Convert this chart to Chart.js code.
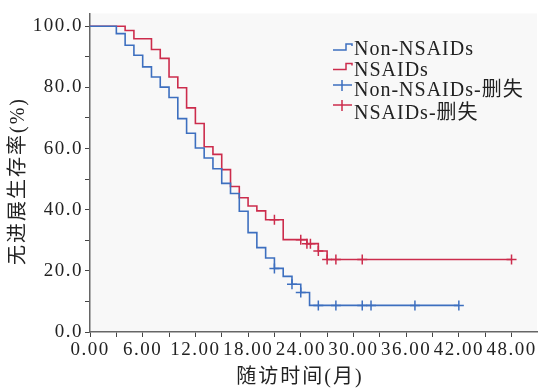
<!DOCTYPE html>
<html>
<head>
<meta charset="utf-8">
<script src="https://cdn.jsdelivr.net/npm/chart.js@4.4.1/dist/chart.umd.min.js"></script>
<style>
  html, body { margin: 0; padding: 0; background: #fff; }
</style>
</head>
<body>
<canvas id="km" width="551" height="392"></canvas>
<script>
// Kaplan-Meier steps (time in months, survival in %)
const nonTimes = [0, 3, 4, 5, 6, 7, 8, 9, 10, 11, 12, 13, 14, 15, 16, 17, 18, 19, 20, 21, 22, 23, 24, 25, 42];
const nonSurv  = [100, 97.6, 93.8, 90.5, 86.7, 83.4, 80.1, 76.7, 69.8, 65.0, 60.2, 56.9, 53.4, 48.6, 45.3, 39.5, 32.5, 27.6, 24.2, 20.8, 18.2, 15.6, 12.9, 8.7, 8.7];
const nsTimes  = [0, 4, 5, 7, 8, 9, 10, 11, 12, 13, 14, 15, 16, 17, 18, 19, 20, 22, 24.7, 26, 27, 48];
const nsSurv   = [100, 98.6, 95.9, 92.4, 89.5, 83.4, 79.9, 73.3, 68.2, 60.6, 58.1, 53.1, 47.6, 43.9, 41.2, 39.6, 36.7, 30.2, 28.9, 26.5, 23.7, 23.7];

// censored observations
const nonCensT = [21, 23, 24, 26, 28, 31, 32, 37, 42];
const nonCensS = [20.8, 15.6, 12.9, 8.7, 8.7, 8.7, 8.7, 8.7, 8.7];
const nsCensT  = [21, 24, 24.7, 25.1, 26, 27, 28, 31, 48];
const nsCensS  = [36.7, 30.2, 28.9, 28.9, 26.5, 23.7, 23.7, 23.7, 23.7];

// axis ticks (labelled ones every other tick)
const xTickVals = [0, 3, 6, 9, 12, 15, 18, 21, 24, 27, 30, 33, 36, 39, 42, 45, 48];
const yTickVals = [0, 10, 20, 30, 40, 50, 60, 70, 80, 90, 100];

const seriesNames = ['Non-NSAIDs', 'NSAIDs', 'Non-NSAIDs-删失', 'NSAIDs-删失'];
const xTitle = '随访时间(月)';
const yTitle = '无进展生存率(%)';

const blue = '#3d6fbf';
const red = '#cc2c4c';
const serif = "'Liberation Serif', 'Noto Sans CJK SC', serif";

const toXY = (xs, ys) => xs.map((x, i) => ({ x: x, y: ys[i] }));

const bgPlugin = {
  id: 'bg',
  beforeUpdate(c) { c.ctx.letterSpacing = '1.5px'; },
  beforeDraw(c) {
    const { ctx, chartArea: a } = c;
    ctx.letterSpacing = '1.5px';
    ctx.save();
    ctx.fillStyle = '#f8f8f8';
    ctx.fillRect(a.left, a.top, a.right - a.left, a.bottom - a.top);
    ctx.restore();
  }
};

// legend and axis titles
const legendPlugin = {
  id: 'kmLegend',
  afterDraw(c) {
    const ctx = c.ctx;
    ctx.save();
    ctx.lineWidth = 1.5;
    [[blue, 50], [red, 69.5]].forEach(([col, y]) => {
      ctx.strokeStyle = col;
      ctx.beginPath();
      ctx.moveTo(333, y);
      ctx.lineTo(346, y);
      ctx.lineTo(346, y - 6);
      ctx.lineTo(352, y - 6);
      ctx.lineTo(352, y - 4);
      ctx.stroke();
    });
    [[blue, 85], [red, 105]].forEach(([col, y]) => {
      ctx.strokeStyle = col;
      ctx.beginPath();
      ctx.moveTo(333, y); ctx.lineTo(352, y);
      ctx.moveTo(342, y - 5); ctx.lineTo(342, y + 6);
      ctx.stroke();
    });
    ctx.fillStyle = '#222';
    ctx.font = '20px ' + serif;
    ctx.letterSpacing = '1px';
    ctx.textBaseline = 'middle';
    const ys = [50, 71, 91, 114];
    seriesNames.forEach((t, i) => ctx.fillText(t, 354, ys[i]));

    ctx.font = '20px ' + serif;
    ctx.letterSpacing = '2px';
    ctx.textAlign = 'center';
    ctx.fillText(xTitle, 300, 378);
    ctx.translate(19, 181);
    ctx.rotate(-Math.PI / 2);
    ctx.fillText(yTitle, 0, 0);
    ctx.restore();
  }
};

new Chart(document.getElementById('km'), {
  type: 'line',
  data: {
    datasets: [
      { label: seriesNames[0], data: toXY(nonTimes, nonSurv), borderColor: blue, borderWidth: 1.6, stepped: true, pointRadius: 0, fill: false },
      { label: seriesNames[1], data: toXY(nsTimes, nsSurv), borderColor: red, borderWidth: 1.6, stepped: true, pointRadius: 0, fill: false },
      { label: seriesNames[2], data: toXY(nonCensT, nonCensS), borderColor: blue, showLine: false, pointStyle: 'cross', pointRadius: 5, borderWidth: 1.5 },
      { label: seriesNames[3], data: toXY(nsCensT, nsCensS), borderColor: red, showLine: false, pointStyle: 'cross', pointRadius: 5, borderWidth: 1.5 }
    ]
  },
  options: {
    responsive: false,
    devicePixelRatio: 1,
    animation: false,
    layout: { padding: { left: 4, right: 14, top: 12, bottom: 2 } },
    plugins: {
      legend: { display: false },
      tooltip: { enabled: false }
    },
    scales: {
      x: {
        type: 'linear',
        min: 0,
        max: 50.9,
        afterBuildTicks: s => { s.ticks = xTickVals.map(v => ({ value: v })); },
        afterFit: s => { s.height = 58; },
        ticks: {
          autoSkip: false,
          maxRotation: 0,
          padding: 2,
          color: '#222',
          font: { family: serif, size: 19 },
          callback: v => (v % 6 === 0 ? v.toFixed(2) : '')
        },
        grid: { drawOnChartArea: false, tickLength: 5, tickColor: '#444' },
        border: { color: '#666', width: 1.5 }
      },
      y: {
        min: 0,
        max: 104.2,
        afterBuildTicks: s => { s.ticks = yTickVals.map(v => ({ value: v })); },
        afterFit: s => { s.width = 86; },
        ticks: {
          autoSkip: false,
          padding: 2,
          color: '#222',
          font: { family: serif, size: 19 },
          callback: v => (v % 20 === 0 ? v.toFixed(1) : '')
        },
        grid: { drawOnChartArea: false, tickLength: 5, tickColor: '#444' },
        border: { color: '#666', width: 1.5 }
      }
    }
  },
  plugins: [bgPlugin, legendPlugin]
});
</script>
</body>
</html>
